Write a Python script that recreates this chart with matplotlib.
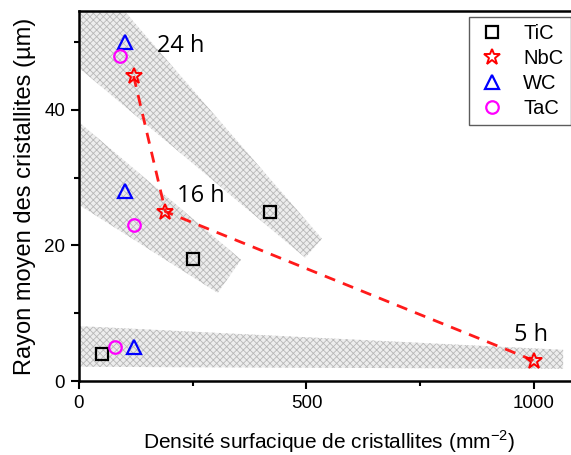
import matplotlib
matplotlib.use("Agg")
import matplotlib.pyplot as plt
from matplotlib.patches import Polygon

plt.rcParams['font.family'] = ['Liberation Sans', 'DejaVu Sans']
plt.rcParams['hatch.linewidth'] = 0.6
plt.rcParams['mathtext.fontset'] = 'custom'
plt.rcParams['mathtext.rm'] = 'Liberation Sans'

# Data (x: crystallite surface density mm^-2, y: mean radius µm) for 5 h, 16 h, 24 h
tic_x = [50, 250, 420]
tic_y = [4, 18, 25]
nbc_x = [1000, 190, 120]
nbc_y = [3, 25, 45]
wc_x = [120, 100, 100]
wc_y = [5, 28, 50]
tac_x = [80, 120, 90]
tac_y = [5, 23, 48]

# NbC trend path (24 h -> 16 h -> 5 h)
nbc_path_x = [120, 190, 1000]
nbc_path_y = [45, 25, 3]

# shaded bands (guide regions)
band_24h = [(0, 62.3), (534, 21.0), (497, 18.2), (0, 46.2)]
band_16h = [(0, 38.2), (356, 17.9), (305, 13.0), (0, 26.0)]
band_5h = [(0, 8.1), (1064, 4.6), (1064, 1.8), (0, 2.1)]

time_labels = ["24 h", "16 h", "5 h"]
time_label_pos = [(172, 49.4), (216, 27.3), (955, 6.8)]

W, H = 571, 455
fig = plt.figure(figsize=(W / 100, H / 100), dpi=100)
left_px, right_px, top_px, bottom_px = 79, 579.5, 11, 381
ax = fig.add_axes([left_px / W, 1 - bottom_px / H,
                   (right_px - left_px) / W, (bottom_px - top_px) / H])
ax.set_xlim(0, 1100)
ax.set_ylim(0, 54.6)

for band in (band_24h, band_16h, band_5h):
    p = Polygon(band, closed=True, facecolor='#ededed', edgecolor='#b8b8b8',
                hatch='xxxxx', linewidth=0, zorder=1)
    ax.add_patch(p)

ax.plot(nbc_path_x, nbc_path_y, color='#ff1a1a', linestyle=(0, (4, 3)),
        linewidth=2, zorder=2)

mk = dict(linestyle='none', markersize=9, markeredgewidth=1.6,
          markerfacecolor='none', zorder=3)
ax.plot(tic_x, tic_y, marker='s', markeredgecolor='black', label='TiC', **mk)
ax.plot(nbc_x, nbc_y, marker='*', markeredgecolor='red', label='NbC',
        **{**mk, 'markersize': 12, 'markeredgewidth': 1.4})
ax.plot(wc_x, wc_y, marker='^', markeredgecolor='blue', label='WC',
        **{**mk, 'markersize': 10})
ax.plot(tac_x, tac_y, marker='o', markeredgecolor='magenta', label='TaC', **mk)

for t, (tx, ty) in zip(time_labels, time_label_pos):
    ax.text(tx, ty, t, fontsize=17, family=['Open Sans', 'DejaVu Sans'],
            va='center', ha='left', zorder=4)

ax.set_xticks([0, 500, 1000])
ax.set_xticks([250, 750], minor=True)
ax.set_yticks([0, 20, 40])
ax.set_yticks([10, 30, 50], minor=True)
ax.tick_params(which='major', direction='out', length=6, width=1.5,
               labelsize=13.5, pad=4)
ax.tick_params(which='minor', direction='out', length=3.5, width=1.5)
for s in ax.spines.values():
    s.set_linewidth(1.8)

ax.set_xlabel('Densité surfacique de cristallites (mm$^{-2}$)', fontsize=15,
              labelpad=12)
ax.set_ylabel('Rayon moyen des cristallites (µm)', fontsize=17, labelpad=6)

leg = ax.legend(loc='upper left', bbox_to_anchor=(469 / W, 1 - 17 / H),
                bbox_transform=fig.transFigure, fontsize=14.5, frameon=True,
                fancybox=False, edgecolor='#333333', handlelength=1.6,
                handletextpad=0.75, labelspacing=0.3, borderpad=0.35,
                borderaxespad=0)
leg.get_frame().set_linewidth(1.0)

fig.savefig('out.png', dpi=100)
